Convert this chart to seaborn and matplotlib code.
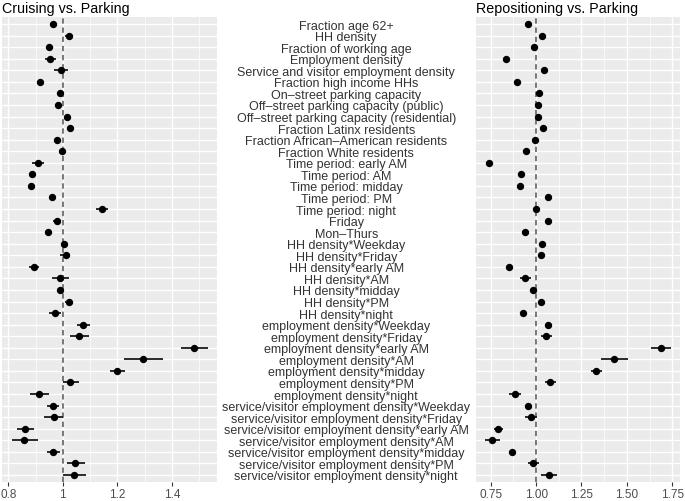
import numpy as np
import pandas as pd
import matplotlib
matplotlib.use("Agg")
import matplotlib.pyplot as plt
import seaborn as sns
from matplotlib.ticker import MultipleLocator

# === Data (odds-ratio style estimates) ===
terms = [
    "Fraction age 62+", "HH density", "Fraction of working age", "Employment density",
    "Service and visitor employment density", "Fraction high income HHs",
    "On\u2013street parking capacity", "Off\u2013street parking capacity (public)",
    "Off\u2013street parking capacity (residential)", "Fraction Latinx residents",
    "Fraction African\u2013American residents", "Fraction White residents",
    "Time period: early AM", "Time period: AM", "Time period: midday", "Time period: PM",
    "Time period: night", "Friday", "Mon\u2013Thurs",
    "HH density*Weekday", "HH density*Friday", "HH density*early AM", "HH density*AM",
    "HH density*midday", "HH density*PM", "HH density*night",
    "employment density*Weekday", "employment density*Friday", "employment density*early AM",
    "employment density*AM", "employment density*midday", "employment density*PM",
    "employment density*night",
    "service/visitor employment density*Weekday", "service/visitor employment density*Friday",
    "service/visitor employment density*early AM", "service/visitor employment density*AM",
    "service/visitor employment density*midday", "service/visitor employment density*PM",
    "service/visitor employment density*night",
]

cruise_est = [0.963, 1.022, 0.950, 0.953, 0.993, 0.918, 0.989, 0.983, 1.015, 1.027,
              0.979, 0.996, 0.909, 0.888, 0.883, 0.961, 1.144, 0.978, 0.946, 1.004,
              1.010, 0.893, 0.991, 0.988, 1.021, 0.972, 1.075, 1.059, 1.480, 1.293,
              1.200, 1.027, 0.914, 0.963, 0.966, 0.860, 0.856, 0.963, 1.045, 1.042]
cruise_lo = [0.955, 1.008, 0.943, 0.933, 0.969, 0.911, 0.982, 0.976, 1.008, 1.020,
             0.972, 0.989, 0.888, 0.877, 0.876, 0.953, 1.123, 0.965, 0.939, 0.997,
             0.991, 0.877, 0.962, 0.980, 1.009, 0.951, 1.052, 1.025, 1.432, 1.226,
             1.174, 1.000, 0.880, 0.941, 0.932, 0.833, 0.813, 0.941, 1.015, 1.000]
cruise_hi = [0.971, 1.037, 0.957, 0.975, 1.020, 0.925, 0.996, 0.990, 1.022, 1.034,
             0.986, 1.003, 0.931, 0.900, 0.890, 0.969, 1.166, 0.991, 0.953, 1.011,
             1.028, 0.912, 1.023, 0.996, 1.035, 0.992, 1.101, 1.096, 1.533, 1.366,
             1.229, 1.059, 0.951, 0.987, 1.002, 0.893, 0.908, 0.988, 1.080, 1.086]

repo_est = [0.954, 1.031, 0.987, 0.833, 1.046, 0.895, 1.018, 1.011, 1.013, 1.039,
            0.993, 0.943, 0.739, 0.917, 0.912, 1.063, 1.002, 1.064, 0.937, 1.035,
            1.028, 0.853, 0.939, 0.982, 1.029, 0.926, 1.068, 1.055, 1.688, 1.429,
            1.329, 1.075, 0.884, 0.954, 0.971, 0.792, 0.757, 0.866, 0.983, 1.070]
repo_lo = [0.944, 1.021, 0.977, 0.823, 1.029, 0.885, 1.008, 1.001, 1.003, 1.029,
           0.983, 0.933, 0.729, 0.907, 0.902, 1.053, 0.992, 1.054, 0.927, 1.025,
           1.018, 0.843, 0.913, 0.972, 1.019, 0.916, 1.050, 1.026, 1.635, 1.357,
           1.303, 1.050, 0.849, 0.937, 0.940, 0.766, 0.718, 0.851, 0.954, 1.026]
repo_hi = [0.964, 1.041, 0.997, 0.843, 1.065, 0.905, 1.028, 1.021, 1.023, 1.049,
           1.003, 0.953, 0.749, 0.927, 0.922, 1.073, 1.012, 1.074, 0.947, 1.045,
           1.038, 0.863, 0.969, 0.992, 1.039, 0.936, 1.090, 1.086, 1.745, 1.506,
           1.361, 1.107, 0.919, 0.972, 1.007, 0.820, 0.801, 0.882, 1.014, 1.114]

cruise_ticks = [0.8, 1.0, 1.2, 1.4]
repo_ticks = [0.75, 1.00, 1.25, 1.50, 1.75]

df = pd.DataFrame({
    "term": terms,
    "row": np.arange(len(terms)),
    "cruise": cruise_est, "cruise_lo": cruise_lo, "cruise_hi": cruise_hi,
    "repo": repo_est, "repo_lo": repo_lo, "repo_hi": repo_hi,
})

# === Style (ggplot-ish grey panel) ===
sns.set_theme(style="darkgrid", rc={
    "axes.facecolor": "#EBEBEB",
    "grid.color": "white",
    "axes.edgecolor": "#EBEBEB",
})
plt.rcParams["font.family"] = ["Liberation Sans", "DejaVu Sans"]

fig = plt.figure(figsize=(6.85, 5.02), dpi=100)
ax_l = fig.add_axes([0.003, 0.038, 0.314, 0.926])
ax_r = fig.add_axes([0.695, 0.038, 0.298, 0.926])

panels = [
    (ax_l, "cruise", "Cruising vs. Parking", (0.777, 1.566), cruise_ticks, 0.1),
    (ax_r, "repo", "Repositioning vs. Parking", (0.669, 1.794), repo_ticks, 0.125),
]

for ax, col, title, xlim, ticks, minor in panels:
    ax.axvline(1.0, color="#555555", lw=1.1, ls=(0, (3.5, 2.5)), zorder=2)
    ax.hlines(df["row"], df[col + "_lo"], df[col + "_hi"], color="#1a1a1a", lw=1.3, zorder=3)
    sns.scatterplot(data=df, x=col, y="row", ax=ax, color="black", s=28,
                    edgecolor="black", linewidth=0, zorder=4)
    ax.set_xlim(*xlim)
    ax.set_ylim(len(terms) - 0.4, -0.6)
    ax.set_xticks(ticks)
    ax.set_xticklabels([f"{t:g}" if col == "cruise" else f"{t:.2f}" for t in ticks])
    ax.xaxis.set_minor_locator(MultipleLocator(minor))
    ax.grid(which="major", axis="x", color="white", lw=1.0)
    ax.grid(which="minor", axis="x", color="white", lw=0.5)
    ax.grid(which="major", axis="y", color="white", lw=1.0)
    ax.set_yticks(df["row"])
    ax.set_xlabel("")
    ax.set_ylabel("")
    ax.tick_params(axis="x", which="major", length=3, width=0.8, color="#333333",
                   labelsize=8.5, labelcolor="#4D4D4D", pad=1.5, bottom=True)
    ax.tick_params(axis="x", which="minor", length=0)
    ax.set_title(title, loc="left", fontsize=10.3, pad=4, color="black")
    for s in ax.spines.values():
        s.set_visible(False)

ax_l.tick_params(axis="y", length=0, labelleft=False)
ax_r.set_yticklabels(df["term"])
ax_r.tick_params(axis="y", length=0, pad=93.5, labelsize=9.0, labelcolor="#333333")
for t in ax_r.get_yticklabels():
    t.set_horizontalalignment("center")

fig.savefig("out.png", dpi=100)
